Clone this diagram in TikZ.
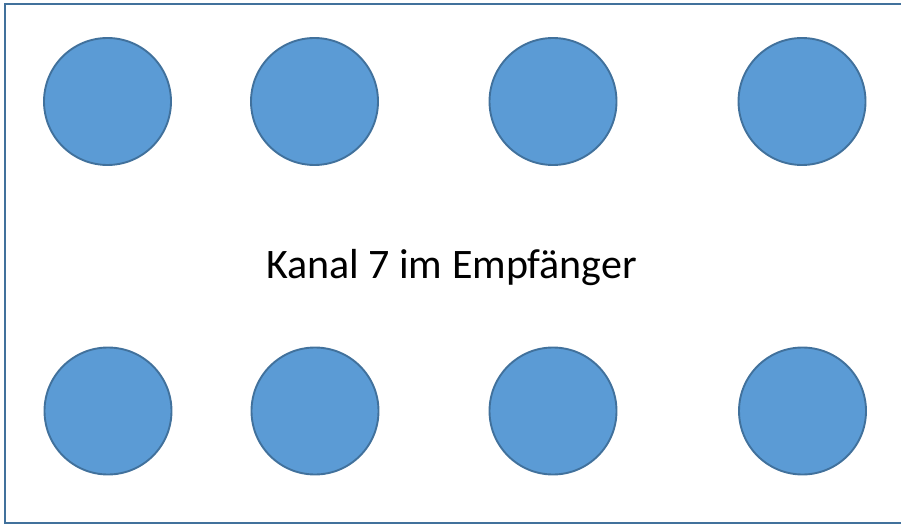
\documentclass[tikz,border=0pt]{standalone}
\usepackage{fontspec}
\setmainfont{Carlito}
\definecolor{dotfill}{HTML}{5B9BD5}
\definecolor{dotline}{HTML}{41719C}
\begin{document}
\begin{tikzpicture}[x=1pt,y=1pt,
  dot/.style={circle,fill=dotfill,draw=dotline,line width=1.9pt,minimum size=127pt,inner sep=0pt},
  frame/.style={draw=dotline,line width=2pt}]
\useasboundingbox (0,0) rectangle (901,525);
\begin{scope}
\clip (0,0) rectangle (901,525);
\draw[frame] (4.5,2) rectangle (920,520.5);
\end{scope}
\node[dot] (t1) at (107.5,423.5) {};
\node[dot] (t2) at (314.5,423.5) {};
\node[dot] (t3) at (553,423.5) {};
\node[dot] (t4) at (802,423.5) {};
\node[dot] (b1) at (108,114) {};
\node[dot] (b2) at (315,114) {};
\node[dot] (b3) at (553,114) {};
\node[dot] (b4) at (802.5,114) {};
\node[anchor=base,font=\fontsize{42}{50}\selectfont,inner sep=0pt] (lbl) at (451.5,246) {Kanal 7 im Empfänger};
\end{tikzpicture}
\end{document}
